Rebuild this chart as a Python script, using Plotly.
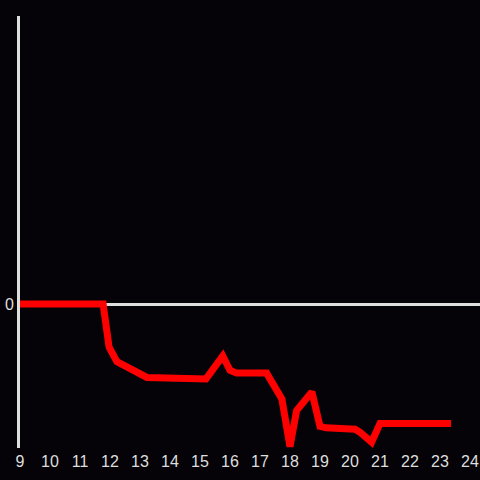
import plotly.graph_objects as go

# time of day (hours) and relative level
hours = [8.9, 11.77, 11.97, 12.23, 13.23, 15.2, 15.76, 16.0, 16.22, 17.22, 17.73,
         18.0, 18.22, 18.73, 19.0, 19.2, 20.17, 20.33, 20.72, 21.0, 23.37]
level = [0, 0, -0.30, -0.40, -0.51, -0.52, -0.36, -0.46, -0.48, -0.48, -0.66,
         -0.99, -0.74, -0.61, -0.85, -0.86, -0.87, -0.89, -0.96, -0.83, -0.83]

x_ticks = list(range(9, 25))

bg = "#050307"
axis_col = "#dedede"

fig = go.Figure(go.Scatter(
    x=hours, y=level,
    mode="lines",
    line=dict(color="#ff0000", width=7),
    hoverinfo="skip",
))

fig.update_layout(
    autosize=True,
    paper_bgcolor=bg, plot_bgcolor=bg,
    margin=dict(l=20, r=0, t=16, b=32),
    showlegend=False,
    font=dict(family="Liberation Sans", size=16, color=axis_col),
)

fig.update_xaxes(
    range=[9, 9 + 460 / 30],
    tickvals=x_ticks,
    showgrid=False, zeroline=False, showline=False,
    ticks="", ticklabelstandoff=2, fixedrange=True,
)
fig.update_yaxes(
    range=[-1, 2],
    tickvals=[0],
    showgrid=False,
    zeroline=True, zerolinecolor=axis_col, zerolinewidth=3,
    showline=True, linecolor=axis_col, linewidth=3,
    ticks="", fixedrange=True,
)

# drop the page's default body margin so the chart fills the window
fix_page = ("document.body.style.margin='0';"
            "document.body.style.background='%s';"
            "Plotly.Plots.resize(document.getElementById('{plot_id}'));" % bg)

fig.write_html("out.html", default_width="100vw", default_height="100vh",
               config={"displayModeBar": False}, post_script=fix_page)
